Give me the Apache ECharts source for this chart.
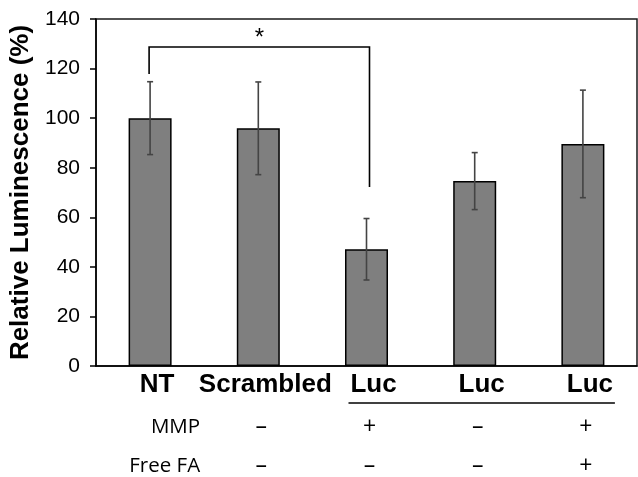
<!DOCTYPE html>
<html><head><meta charset="utf-8">
<script src="https://cdn.jsdelivr.net/npm/echarts@6/dist/echarts.min.js"></script>
<style>html,body{margin:0;padding:0;background:#fff}#c{width:638px;height:477px}</style>
</head><body><div id="c"></div>
<script>
const categories = ['NT', 'Scrambled', 'Luc', 'Luc', 'Luc'];
const values = [100, 95.9, 47.1, 74.6, 89.6];
const errors = [14.7, 18.7, 12.4, 11.5, 21.7];
const yTicks = [0, 20, 40, 60, 80, 100, 120, 140];
const mmpRow = ['', '–', '+', '–', '+'];
const freeFaRow = ['', '–', '–', '–', '+'];
const rowTitles = ['MMP', 'Free FA'];
const bracket = {from: 0, to: 2, top: 128.7, leftEnd: 117.8, rightEnd: 72.2, mark: '*'};
const lucGroup = [2, 4];

const chart = echarts.init(document.getElementById('c'), null, {renderer: 'canvas'});
const errData = values.map((v, i) => [i, v - errors[i], v + errors[i]]);
const rowData = categories.map((c, i) => [i, 0]);

chart.setOption({
  animation: false,
  grid: {left: 96, right: 1, top: 19, bottom: 111, show: true, borderColor: '#1a1a1a', borderWidth: 1.5, backgroundColor: 'transparent'},
  xAxis: {
    type: 'category', data: categories,
    axisLine: {lineStyle: {color: '#000', width: 1.5}},
    axisTick: {show: false},
    axisLabel: {color: '#000', fontFamily: 'Liberation Sans', fontWeight: 'bold', fontSize: 26, margin: 6, padding: [0, 0, 0, 14], interval: 0}
  },
  yAxis: {
    type: 'value', min: yTicks[0], max: yTicks[yTicks.length - 1], interval: 20,
    name: 'Relative Luminescence (%)', nameLocation: 'middle', nameGap: 54,
    nameTextStyle: {color: '#000', fontFamily: 'Liberation Sans', fontWeight: 'bold', fontSize: 26},
    axisLine: {show: true, lineStyle: {color: '#000', width: 1.5}},
    axisTick: {show: true, inside: false, length: 6, lineStyle: {color: '#000', width: 1.5}},
    axisLabel: {color: '#000', fontFamily: 'Liberation Sans', fontSize: 21, margin: 16},
    splitLine: {show: false}
  },
  series: [
    {
      type: 'bar', data: values, barWidth: 43,
      itemStyle: {color: '#7f7f7f', borderColor: '#000', borderWidth: 1.5}
    },
    {
      type: 'custom', data: errData, encode: {x: 0, y: [1, 2]}, z: 5,
      renderItem: function (params, api) {
        const x = api.value(0);
        const lo = api.coord([x, api.value(1)]);
        const hi = api.coord([x, api.value(2)]);
        const cw = 3;
        const st = {stroke: '#444', lineWidth: 1.6};
        return {type: 'group', children: [
          {type: 'line', shape: {x1: lo[0], y1: lo[1], x2: hi[0], y2: hi[1]}, style: st},
          {type: 'line', shape: {x1: lo[0] - cw, y1: lo[1], x2: lo[0] + cw, y2: lo[1]}, style: st},
          {type: 'line', shape: {x1: hi[0] - cw, y1: hi[1], x2: hi[0] + cw, y2: hi[1]}, style: st}
        ]};
      }
    },
    {
      type: 'custom', data: [[bracket.from, bracket.top]], encode: {x: 0, y: 1}, z: 6,
      renderItem: function (params, api) {
        const a = api.coord([bracket.from, bracket.leftEnd]);
        const t1 = api.coord([bracket.from, bracket.top]);
        const t2 = api.coord([bracket.to, bracket.top]);
        const b = api.coord([bracket.to, bracket.rightEnd]);
        return {type: 'group', children: [
          {type: 'polyline', shape: {points: [[a[0] - 1, a[1]], [t1[0] - 1, t1[1]], [t2[0] + 3, t2[1]], [b[0] + 3, b[1]]]},
           style: {stroke: '#000', lineWidth: 1.6, fill: null}},
          {type: 'text', style: {x: (t1[0] + t2[0]) / 2 + 1, y: t1[1] + 3, text: bracket.mark, fill: '#000',
            font: '24px "Liberation Sans"', textAlign: 'center', textVerticalAlign: 'bottom'}}
        ]};
      }
    },
    {
      type: 'custom', data: rowData, encode: {x: 0, y: 1}, clip: false, silent: true,
      renderItem: function (params, api) {
        const i = api.value(0);
        const p = api.coord([i, 0]);
        const ys = [p[1] + 61, p[1] + 100];
        const children = [];
        const rows = [mmpRow, freeFaRow];
        rows.forEach((row, r) => {
          if (row[i]) children.push({type: 'text', style: {x: p[0] + 3, y: ys[r], text: row[i], fill: '#000',
            font: '23px "Open Sans"', textAlign: 'center', textVerticalAlign: 'middle'}});
        });
        if (i === 0) {
          rowTitles.forEach((t, r) => children.push({type: 'text', style: {x: p[0] + 50, y: ys[r], text: t, fill: '#000',
            font: '20.5px "Open Sans"', textAlign: 'right', textVerticalAlign: 'middle'}}));
        }
        if (i === lucGroup[0]) {
          const q = api.coord([lucGroup[1], 0]);
          children.push({type: 'line', shape: {x1: p[0] - 18, y1: p[1] + 37, x2: q[0] + 32, y2: q[1] + 37},
            style: {stroke: '#000', lineWidth: 1.5}});
        }
        return {type: 'group', children: children};
      }
    }
  ]
});
</script></body></html>
